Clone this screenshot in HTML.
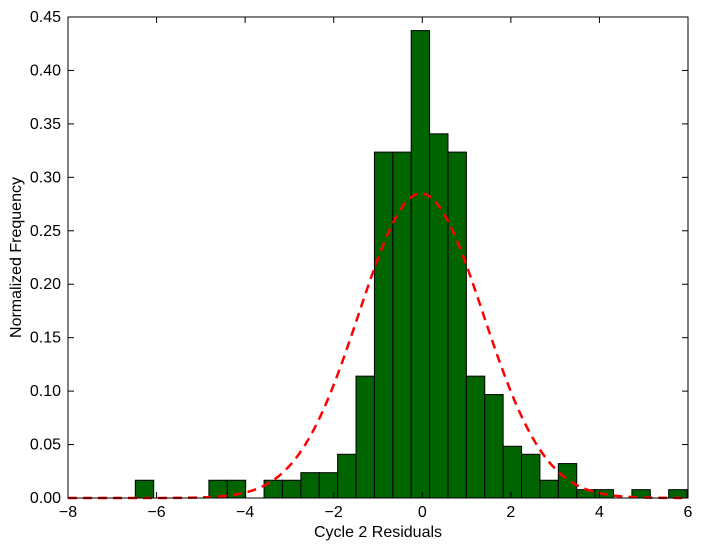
<!DOCTYPE html>
<html><head><meta charset="utf-8"><style>body{margin:0;background:#fff}svg{display:block;font-family:"Liberation Sans",sans-serif}</style></head>
<body>
<svg id="chart" width="702" height="550"></svg>
<script>
const binStart = -6.48;
const binWidth = 0.4153;
const binHeights = [0.0166,0,0,0,0.0166,0.0166,0,0.0166,0.0166,0.0237,0.0237,0.0409,0.114,0.3236,0.3236,0.4373,0.3407,0.3236,0.114,0.0968,0.0484,0.0409,0.0166,0.0322,0.0078,0.0078,0,0.0078,0,0.0078];
const fitMean = -0.03;
const fitSigma = 1.40;
const xTicks = [-8,-6,-4,-2,0,2,4,6];
const xTickLabels = ["\u22128","\u22126","\u22124","\u22122","0","2","4","6"];
const yTicks = [0,0.05,0.1,0.15,0.2,0.25,0.3,0.35,0.4,0.45];
const yTickLabels = ["0.00","0.05","0.10","0.15","0.20","0.25","0.30","0.35","0.40","0.45"];

const NS="http://www.w3.org/2000/svg";
const svg=document.getElementById('chart');
const L=68,R=688,T=17,B=498;
const X=v=>L+(v+8)/14*(R-L);
const Y=v=>B-v/0.45*(B-T);
function mk(tag,attrs,parent){const e=document.createElementNS(NS,tag);for(const k in attrs)e.setAttribute(k,attrs[k]);(parent||svg).appendChild(e);return e;}

const bars=mk('g',{});


binHeights.forEach((h,i)=>{
  if(h<=0)return;
  const x0=X(binStart+i*binWidth),x1=X(binStart+(i+1)*binWidth);
  const r=mk('rect',{x:x0,y:Y(h),width:x1-x0,height:B-Y(h),fill:'#006400',stroke:'#000','stroke-width':1},bars);
  
  
});

let pts=[];
for(let v=-8;v<=6.0001;v+=0.05){
  const y=Math.exp(-0.5*Math.pow((v-fitMean)/fitSigma,2))/(fitSigma*Math.sqrt(2*Math.PI));
  pts.push(X(v).toFixed(2)+','+Y(y).toFixed(2));
}
const curve=mk('polyline',{points:pts.join(' '),fill:'none',stroke:'#ff0000','stroke-width':2.5,'stroke-dasharray':'9,6'});



const frame=mk('rect',{x:L,y:T,width:R-L,height:B-T,fill:'none',stroke:'#000','stroke-width':1});



xTicks.forEach((v,i)=>{
  const x=X(v);
  mk('line',{x1:x,x2:x,y1:B,y2:B-6,stroke:'#000'});
  mk('line',{x1:x,x2:x,y1:T,y2:T+6,stroke:'#000'});
  const t=mk('text',{x:x,y:B+19,'text-anchor':'middle','font-size':16});
  t.textContent=xTickLabels[i];
  
  
});
yTicks.forEach((v,i)=>{
  const y=Y(v);
  mk('line',{x1:L,x2:L+6,y1:y,y2:y,stroke:'#000'});
  mk('line',{x1:R,x2:R-6,y1:y,y2:y,stroke:'#000'});
  const t=mk('text',{x:L-7,y:y+5,'text-anchor':'end','font-size':16});
  t.textContent=yTickLabels[i];
  
  
});
const xt=mk('text',{x:(L+R)/2,y:537,'text-anchor':'middle','font-size':16});
xt.textContent='Cycle 2 Residuals';


const yt=mk('text',{x:21,y:(T+B)/2,'text-anchor':'middle','font-size':16,transform:'rotate(-90 21 '+((T+B)/2)+')'});
yt.textContent='Normalized Frequency';


</script>
</body></html>
